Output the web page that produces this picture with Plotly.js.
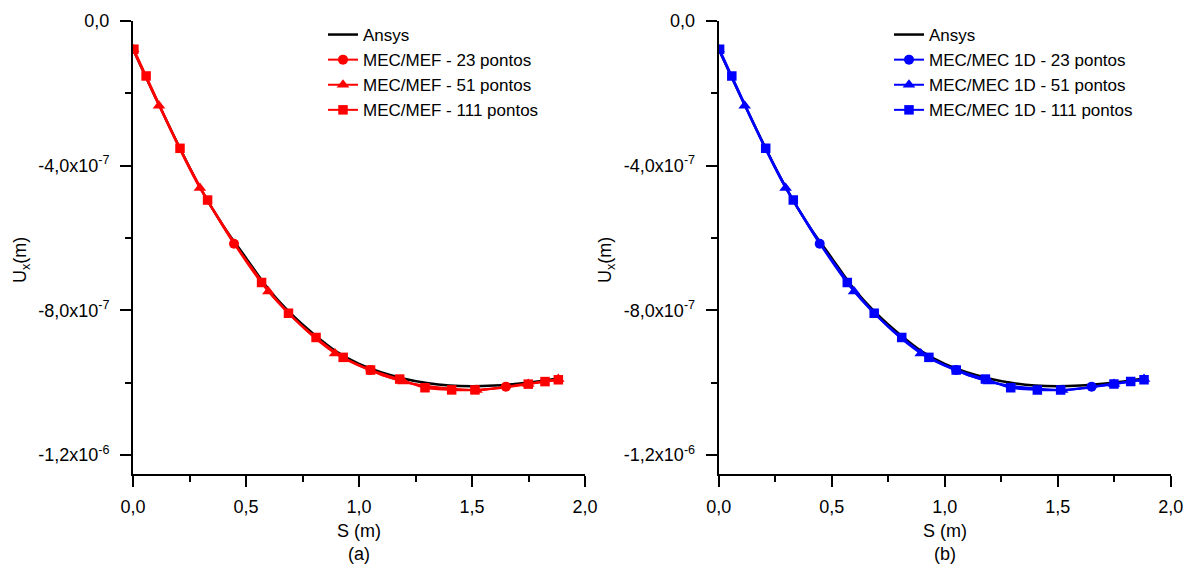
<!DOCTYPE html>
<html>
<head>
<meta charset="utf-8">
<script src="https://cdn.plot.ly/plotly-3.0.1.min.js"></script>
<style>
html,body{margin:0;padding:0;background:#fff;}
#chart{width:1192px;height:569px;}
</style>
</head>
<body>
<div id="chart"></div>
<script>
// ---------- data (values in units of 1e-7 m, scaled below) ----------
const ansysS   = [0, 0.1, 0.2, 0.3, 0.4, 0.5, 0.6, 0.7, 0.8, 0.9, 1.0, 1.1, 1.2, 1.3, 1.4, 1.5, 1.6, 1.7, 1.8, 1.885];
const ansysUx  = [-0.78, -2.12, -3.42, -4.64, -5.67, -6.55, -7.42, -8.10, -8.66, -9.14, -9.48, -9.72, -9.89, -10.01, -10.08, -10.10, -10.08, -10.03, -9.96, -9.88];

// panel (a) MEC/MEF
const mef23S   = [0, 0.086, 0.171, 0.257, 0.343, 0.447, 0.514, 0.6, 0.686, 0.771, 0.857, 0.943, 1.051, 1.114, 1.2, 1.286, 1.371, 1.457, 1.543, 1.65, 1.714, 1.8, 1.882];
const mef23Ux  = [-0.78, -1.93, -3.05, -4.13, -5.10, -6.16, -6.72, -7.45, -8.05, -8.58, -9.00, -9.34, -9.65, -9.82, -9.97, -10.10, -10.17, -10.20, -10.20, -10.11, -10.05, -9.98, -9.92];
const mef51S   = [0, 0.115, 0.296, 0.599, 0.894, 1.196, 1.52, 1.749, 1.882];
const mef51Ux  = [-0.78, -2.34, -4.62, -7.48, -9.19, -9.97, -10.20, -10.04, -9.90];
const mef111S  = [0.004, 0.058, 0.208, 0.33, 0.569, 0.688, 0.81, 0.93, 1.051, 1.18, 1.292, 1.41, 1.513, 1.749, 1.823, 1.882];
const mef111Ux = [-0.78, -1.52, -3.52, -4.95, -7.23, -8.08, -8.75, -9.30, -9.65, -9.90, -10.14, -10.20, -10.20, -10.04, -9.97, -9.92];

// panel (b) MEC/MEC 1D
const mec23S   = [0, 0.086, 0.171, 0.257, 0.343, 0.447, 0.514, 0.6, 0.686, 0.771, 0.857, 0.943, 1.051, 1.114, 1.2, 1.286, 1.371, 1.457, 1.543, 1.65, 1.714, 1.8, 1.882];
const mec23Ux  = [-0.78, -1.93, -3.05, -4.13, -5.10, -6.16, -6.72, -7.45, -8.05, -8.58, -9.00, -9.34, -9.65, -9.82, -9.97, -10.10, -10.17, -10.20, -10.20, -10.11, -10.05, -9.98, -9.92];
const mec51S   = [0, 0.115, 0.296, 0.599, 0.894, 1.196, 1.52, 1.749, 1.882];
const mec51Ux  = [-0.78, -2.34, -4.62, -7.48, -9.19, -9.97, -10.20, -10.04, -9.90];
const mec111S  = [0.004, 0.058, 0.208, 0.33, 0.569, 0.688, 0.81, 0.93, 1.051, 1.18, 1.292, 1.41, 1.513, 1.749, 1.823, 1.882];
const mec111Ux = [-0.78, -1.52, -3.52, -4.95, -7.23, -8.08, -8.75, -9.30, -9.65, -9.90, -10.14, -10.20, -10.20, -10.04, -9.97, -9.92];

const xTickVals = [0, 0.5, 1.0, 1.5, 2.0];
const xTickText = ['0,0', '0,5', '1,0', '1,5', '2,0'];
const xMinorVals = [0.25, 0.75, 1.25, 1.75];
const yTickVals = [0, -4e-7, -8e-7, -1.2e-6];
const yTickText = ['0,0', '-4,0x10<sup>-7</sup>', '-8,0x10<sup>-7</sup>', '-1,2x10<sup>-6</sup>'];
const yMinorVals = [-2e-7, -6e-7, -1e-6];

const legendA = ['Ansys', 'MEC/MEF - 23 pontos', 'MEC/MEF - 51 pontos', 'MEC/MEF - 111 pontos'];
const legendB = ['Ansys', 'MEC/MEC 1D - 23 pontos', 'MEC/MEC 1D - 51 pontos', 'MEC/MEC 1D - 111 pontos'];

// ---------- build ----------
const sc = v => v.map(d => d * 1e-7);
const FONT = 'Liberation Sans, Arial, sans-serif';
const W = 1192, H = 569;

// maxShown: limit of markers drawn (Origin-style "skip points"); lines keep every point
function series(xs, ys, name, color, symbol, size, xa, ya, leg, rank, maxShown) {
  return {x: xs, y: sc(ys), name: name, type: 'scatter', mode: 'lines+markers', legendrank: rank,
    line: {color: color, width: 2, shape: 'spline', smoothing: 0.8},
    marker: {color: color, symbol: symbol, size: size, opacity: 1, maxdisplayed: maxShown},
    xaxis: xa, yaxis: ya, legend: leg};
}
function ansys(xa, ya, leg) {
  return {x: ansysS, y: sc(ansysUx), name: 'Ansys', type: 'scatter', mode: 'lines', legendrank: 1,
    line: {color: '#000', width: 2.5, shape: 'spline'}, xaxis: xa, yaxis: ya, legend: leg};
}

const traces = [
  ansys('x', 'y', 'legend'),
  series(mef51S, mef51Ux, legendA[2], '#ff0000', 'triangle-up', 11, 'x', 'y', 'legend', 3, 1000),
  series(mef23S, mef23Ux, legendA[1], '#ff0000', 'circle', 10, 'x', 'y', 'legend', 2, 3.5),
  series(mef111S, mef111Ux, legendA[3], '#ff0000', 'square', 9.5, 'x', 'y', 'legend', 4, 0),
  ansys('x2', 'y2', 'legend2'),
  series(mec51S, mec51Ux, legendB[2], '#0000ff', 'triangle-up', 11, 'x2', 'y2', 'legend2', 3, 1000),
  series(mec23S, mec23Ux, legendB[1], '#0000ff', 'circle', 10, 'x2', 'y2', 'legend2', 2, 3.5),
  series(mec111S, mec111Ux, legendB[3], '#0000ff', 'square', 9.5, 'x2', 'y2', 'legend2', 4, 0)
];

function xAxis(d0, d1) {
  return {domain: [d0 / W, d1 / W], range: [0, 2.0], showline: true, linewidth: 2, linecolor: '#000',
    ticks: 'outside', ticklen: 11, tickwidth: 2, tickcolor: '#000', tickmode: 'array',
    tickvals: xTickVals, ticktext: xTickText, showgrid: false, zeroline: false, automargin: false,
    ticklabelstandoff: 4, tickfont: {family: FONT, size: 18, color: '#000'},
    minor: {tickmode: 'array', tickvals: xMinorVals, ticks: 'outside', ticklen: 6, tickwidth: 2, tickcolor: '#000', showgrid: false}};
}
function yAxis(anchor) {
  return {domain: [1 - 474 / H, 1 - 21 / H], range: [-1.2525e-6, 0], anchor: anchor, showline: true, linewidth: 2, linecolor: '#000',
    ticks: 'outside', ticklen: 11, tickwidth: 2, tickcolor: '#000', tickmode: 'array',
    tickvals: yTickVals, ticktext: yTickText, showgrid: false, zeroline: false, automargin: false,
    ticklabelstandoff: 7, tickfont: {family: FONT, size: 18, color: '#000'},
    minor: {tickmode: 'array', tickvals: yMinorVals, ticks: 'outside', ticklen: 6, tickwidth: 2, tickcolor: '#000', showgrid: false}};
}

const legStyle = (x) => ({x: x / W, y: 1 - 17 / H, xanchor: 'left', yanchor: 'top',
  bgcolor: 'rgba(0,0,0,0)', borderwidth: 0, tracegroupgap: 0, traceorder: 'normal',
  font: {family: FONT, size: 17, color: '#000'}});

const ann = (text, x, y, extra) => Object.assign({text: text, x: x / W, y: 1 - y / H, xref: 'paper', yref: 'paper',
  showarrow: false, xanchor: 'center', yanchor: 'middle', font: {family: FONT, size: 18, color: '#000'}}, extra || {});

const layout = {
  width: W, height: H, margin: {l: 0, r: 0, t: 0, b: 0}, paper_bgcolor: '#fff', plot_bgcolor: '#fff',
  showlegend: true,
  xaxis: Object.assign(xAxis(133, 585), {anchor: 'y'}), yaxis: yAxis('x'),
  xaxis2: Object.assign(xAxis(718.7, 1170.7), {anchor: 'y2'}), yaxis2: yAxis('x2'),
  legend: legStyle(323), legend2: legStyle(889),
  annotations: [
    ann('S (m)', 359, 531), ann('(a)', 359, 554),
    ann('S (m)', 945, 531), ann('(b)', 945, 554),
    ann('U<sub>x</sub>(m)', 21, 260, {textangle: -90}),
    ann('U<sub>x</sub>(m)', 606, 260, {textangle: -90})
  ]
};

Plotly.newPlot('chart', traces, layout, {staticPlot: true});
</script>
</body>
</html>
